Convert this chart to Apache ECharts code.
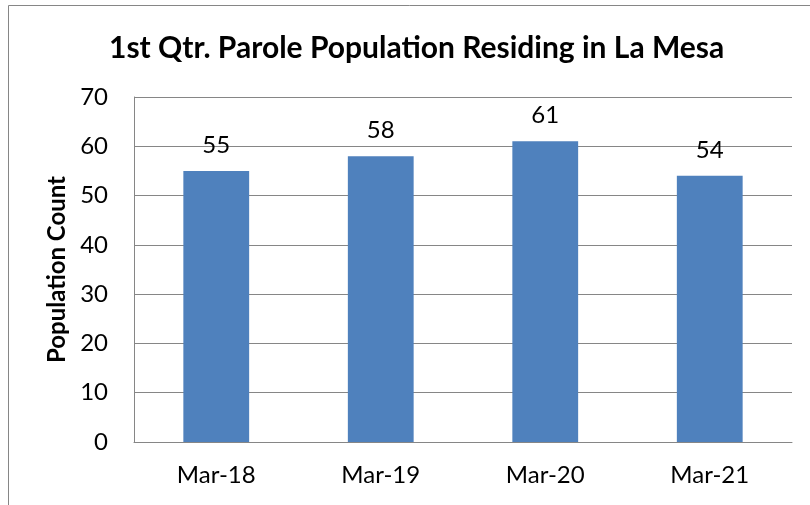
<!DOCTYPE html>
<html><head><meta charset="utf-8">
<script src="https://cdn.jsdelivr.net/npm/echarts@6/dist/echarts.min.js"></script>
<style>html,body{margin:0;padding:0;background:#fff}#c{width:810px;height:505px}</style>
</head><body><div id="c"></div>
<script>
const categories = ['Mar-18', 'Mar-19', 'Mar-20', 'Mar-21'];
const populationCount = [55, 58, 61, 54];
const titleText = '1st Qtr. Parole Population Residing in La Mesa';
const yAxisName = 'Population Count';

const chart = echarts.init(document.getElementById('c'), null, {renderer: 'canvas'});
const font = 'Lato, "Open Sans", sans-serif';
chart.setOption({
  animation: false,
  backgroundColor: '#ffffff',
  title: {
    text: titleText,
    left: 109,
    top: 33,
    padding: 0,
    textStyle: {fontFamily: font, fontSize: 30, fontWeight: 'bold', color: '#000'}
  },
  graphic: [
    {type: 'line', shape: {x1: 8.5, y1: 5.5, x2: 810, y2: 5.5}, style: {stroke: '#868686', lineWidth: 1}},
    {type: 'line', shape: {x1: 8.5, y1: 5.5, x2: 8.5, y2: 505}, style: {stroke: '#868686', lineWidth: 1}}
  ],
  grid: {left: 134, right: 18, top: 97, bottom: 63, containLabel: false},
  xAxis: {
    type: 'category',
    data: categories,
    axisLine: {lineStyle: {color: '#868686', width: 1}},
    axisTick: {show: false},
    axisLabel: {fontFamily: font, fontSize: 24, color: '#000', margin: 21}
  },
  yAxis: {
    type: 'value',
    min: 0, max: 70, interval: 10,
    name: yAxisName,
    nameLocation: 'middle',
    nameGap: 63,
    nameTextStyle: {fontFamily: font, fontSize: 24, fontWeight: 'bold', color: '#000'},
    axisLine: {show: true, lineStyle: {color: '#868686', width: 1}},
    axisTick: {show: false},
    splitLine: {lineStyle: {color: '#868686', width: 1}},
    axisLabel: {fontFamily: font, fontSize: 24, color: '#000', margin: 26}
  },
  series: [{
    type: 'bar',
    data: populationCount,
    barWidth: '40%',
    itemStyle: {color: '#4F81BD'},
    label: {show: true, position: 'top', distance: 14, fontFamily: font, fontSize: 24, color: '#000'}
  }]
});
</script></body></html>
